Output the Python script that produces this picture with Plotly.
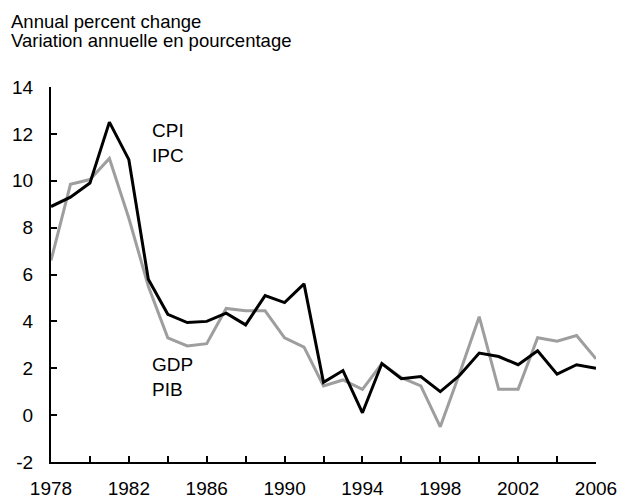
import plotly.graph_objects as go

years = list(range(1978, 2007))
cpi = [8.9, 9.3, 9.9, 12.5, 10.9, 5.8, 4.3, 3.95, 4.0, 4.35, 3.85, 5.1, 4.8, 5.6,
       1.4, 1.9, 0.1, 2.2, 1.55, 1.65, 1.0, 1.7, 2.65, 2.5, 2.15, 2.75, 1.75, 2.15, 2.0]
gdp = [6.6, 9.85, 10.05, 10.95, 8.4, 5.5, 3.3, 2.95, 3.05, 4.55, 4.45, 4.45, 3.3, 2.9,
       1.25, 1.5, 1.1, 2.2, 1.6, 1.25, -0.5, 1.8, 4.2, 1.1, 1.1, 3.3, 3.15, 3.4, 2.4]

x_ticks = [1978, 1982, 1986, 1990, 1994, 1998, 2002, 2006]
y_ticks = [-2, 0, 2, 4, 6, 8, 10, 12, 14]
y_labels = ["-2", "0", "2", "4", "6", "8", "10", "12", "14"]

FONT = "Liberation Sans, Arial, Helvetica, sans-serif"

fig = go.Figure()
fig.add_trace(go.Scatter(x=years, y=gdp, mode="lines",
                         line=dict(color="#9e9e9e", width=3), name="GDP"))
fig.add_trace(go.Scatter(x=years, y=cpi, mode="lines",
                         line=dict(color="#000000", width=3), name="CPI"))

fig.update_layout(
    width=620, height=499,
    margin=dict(l=51, r=24, t=87, b=37),
    paper_bgcolor="white", plot_bgcolor="white",
    showlegend=False,
    font=dict(family=FONT, size=19, color="black"),
    xaxis=dict(range=[1978, 2006], tickvals=x_ticks, ticktext=[str(v) for v in x_ticks],
               automargin=False,
               showgrid=False, zeroline=False, showline=True, linecolor="black", linewidth=2,
               ticks="inside", ticklen=6, tickwidth=2, tickcolor="black",
               minor=dict(tickvals=list(range(1980, 2006, 4)), ticks="inside", ticklen=6,
                          tickwidth=2, tickcolor="black", showgrid=False),
               ticklabelstandoff=8, tickfont=dict(size=19)),
    yaxis=dict(range=[-2, 14], tickvals=y_ticks, ticktext=y_labels,
               showgrid=False, zeroline=False,
               automargin=False,
               showline=True, linecolor="black", linewidth=2,
               ticks="inside", ticklen=6, tickwidth=2, tickcolor="black",
               ticklabelstandoff=12, tickfont=dict(size=19)),
)

annots = [
    dict(text="Annual percent change", x=9, y=21),
    dict(text="Variation annuelle en pourcentage", x=9, y=41),
]
for a in annots:
    fig.add_annotation(text=a["text"], xref="paper", yref="paper",
                       x=(a["x"] - 51) / 545, y=(462 - a["y"]) / 375,
                       xanchor="left", yanchor="middle", showarrow=False,
                       font=dict(size=18.5))

labels = [("CPI", 130), ("IPC", 155), ("GDP", 364), ("PIB", 389)]
for txt, py in labels:
    fig.add_annotation(text=txt, xref="paper", yref="paper",
                       x=(150 - 51) / 545, y=(462 - py) / 375,
                       xanchor="left", yanchor="middle", showarrow=False,
                       font=dict(size=19))

fig.write_html(
    "out.html",
    config={"displayModeBar": False},
    post_script="document.body.style.margin='0';document.body.style.overflow='hidden';",
)
